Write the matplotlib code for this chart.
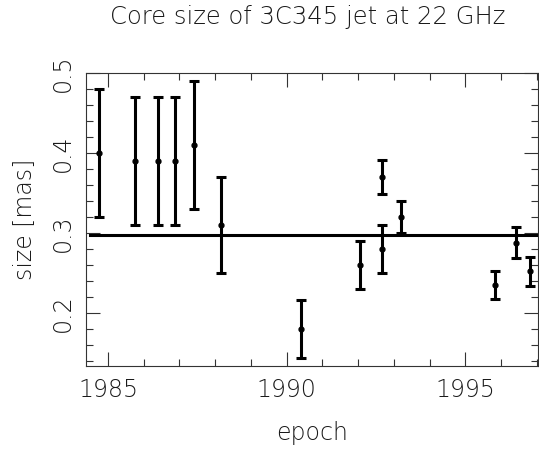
"""
Core size of the 3C345 jet at 22 GHz versus epoch.
"""

import matplotlib
matplotlib.use("Agg")
import matplotlib.pyplot as plt
from matplotlib.ticker import MultipleLocator


EPOCH = [1984.76, 1985.75, 1986.40, 1986.87, 1987.41, 1988.16, 1990.41,
         1992.05, 1992.67, 1992.67, 1993.20, 1995.84, 1996.41, 1996.81]
SIZE = [0.40, 0.39, 0.39, 0.39, 0.41, 0.31, 0.18,
        0.26, 0.37, 0.28, 0.32, 0.235, 0.288, 0.252]
SIZE_ERR = [0.08, 0.08, 0.08, 0.08, 0.08, 0.06, 0.036,
            0.03, 0.021, 0.03, 0.02, 0.018, 0.019, 0.018]
MEAN_SIZE = 0.297


def plot_core_size() -> None:
    """
    Draw the core size measurements with error bars and the mean level.
    """

    plt.rcParams["font.family"] = "DejaVu Sans"
    plt.rcParams["font.weight"] = "light"
    plt.rcParams["axes.labelweight"] = "light"

    fig = plt.figure(figsize=(5.39, 4.49), dpi=100)
    ax = fig.add_axes([0.1596, 0.1849, 0.8386, 0.653])

    ax.errorbar(EPOCH, SIZE, yerr=SIZE_ERR, fmt="o", color="black",
                markersize=3.5, elinewidth=2.2, capsize=3.5, capthick=2.2)

    ax.axhline(MEAN_SIZE, xmin=0.008, color="black", linewidth=2.2)

    ax.set_xlim(1984.385, 1997.03)
    ax.set_ylim(0.134, 0.5)

    ax.xaxis.set_major_locator(MultipleLocator(5))
    ax.xaxis.set_minor_locator(MultipleLocator(1))
    ax.yaxis.set_major_locator(MultipleLocator(0.1))
    ax.yaxis.set_minor_locator(MultipleLocator(0.02))

    ax.tick_params(which="both", direction="in", top=True, right=True,
                   width=0.8, color="#333333", labelsize=17,
                   labelcolor="#1a1a1a")
    ax.tick_params(which="major", length=10)
    ax.tick_params(which="minor", length=5)
    ax.tick_params(axis="x", pad=9)
    ax.tick_params(axis="y", pad=8, labelrotation=90)
    for label in ax.get_yticklabels():
        label.set_verticalalignment("center")

    for spine in ax.spines.values():
        spine.set_linewidth(0.8)
        spine.set_color("#333333")

    ax.set_xlabel("epoch", fontsize=17, color="#1a1a1a", labelpad=13,
                  fontweight="light")
    ax.set_ylabel("size [mas]", fontsize=17, color="#1a1a1a", labelpad=10,
                  fontweight="light")

    fig.text(0.57, 0.962, "Core size of 3C345 jet at 22 GHz", fontsize=17.5,
             color="#1a1a1a", ha="center", va="center", fontweight="light")

    fig.savefig("out.png", dpi=100)


if __name__ == "__main__":
    plot_core_size()
